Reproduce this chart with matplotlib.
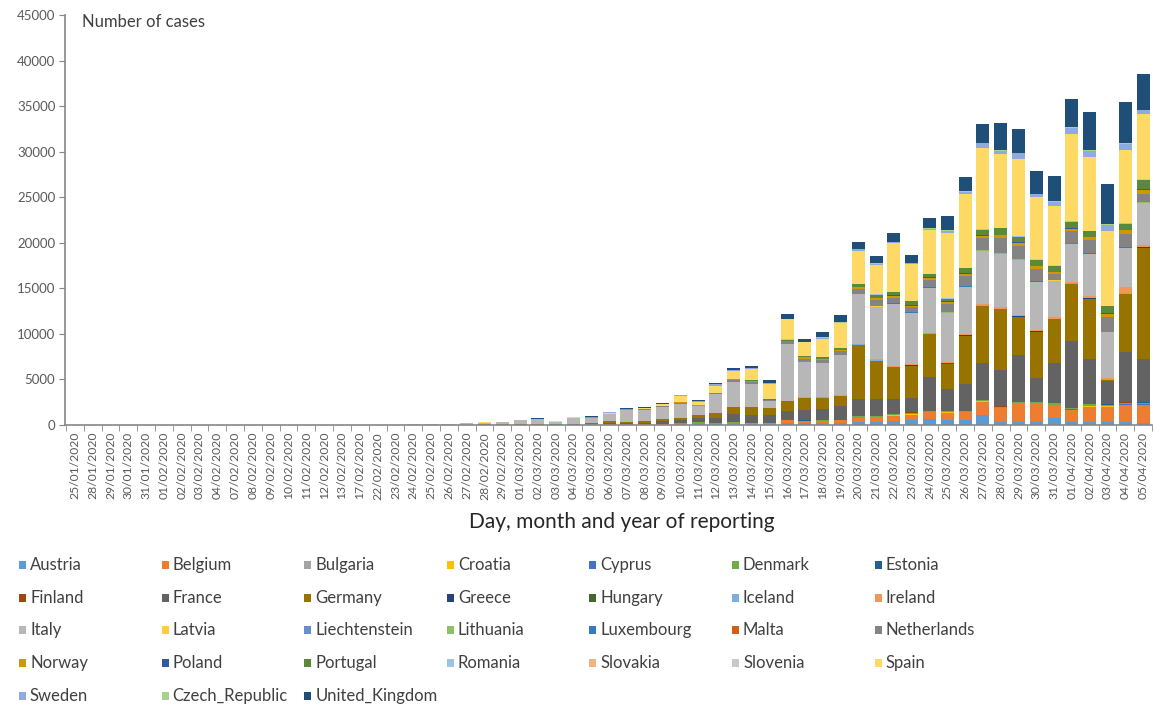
import numpy as np
import matplotlib
matplotlib.use("Agg")
import matplotlib.pyplot as plt
from matplotlib.patches import Rectangle

plt.rcParams['font.family'] = ['Lato', 'DejaVu Sans']

## Dates and countries ##
dates = ["25/01/2020", "28/01/2020", "29/01/2020", "30/01/2020", "31/01/2020",
         "01/02/2020", "02/02/2020", "03/02/2020", "04/02/2020", "07/02/2020",
         "08/02/2020", "09/02/2020", "10/02/2020", "11/02/2020", "12/02/2020",
         "13/02/2020", "17/02/2020", "22/02/2020", "23/02/2020", "24/02/2020",
         "25/02/2020", "26/02/2020", "27/02/2020", "28/02/2020", "29/02/2020",
         "01/03/2020", "02/03/2020", "03/03/2020", "04/03/2020", "05/03/2020",
         "06/03/2020", "07/03/2020", "08/03/2020", "09/03/2020", "10/03/2020",
         "11/03/2020", "12/03/2020", "13/03/2020", "14/03/2020", "15/03/2020",
         "16/03/2020", "17/03/2020", "18/03/2020", "19/03/2020", "20/03/2020",
         "21/03/2020", "22/03/2020", "23/03/2020", "24/03/2020", "25/03/2020",
         "26/03/2020", "27/03/2020", "28/03/2020", "29/03/2020", "30/03/2020",
         "31/03/2020", "01/04/2020", "02/04/2020", "03/04/2020", "04/04/2020",
         "05/04/2020"]

countries = ["Austria", "Belgium", "Bulgaria", "Croatia", "Cyprus", "Denmark", "Estonia",
             "Finland", "France", "Germany", "Greece", "Hungary", "Iceland", "Ireland",
             "Italy", "Latvia", "Liechtenstein", "Lithuania", "Luxembourg", "Malta", "Netherlands",
             "Norway", "Poland", "Portugal", "Romania", "Slovakia", "Slovenia", "Spain",
             "Sweden", "Czech_Republic", "United_Kingdom"]

colors = ["#5B9BD5", "#ED7D31", "#A5A5A5", "#FFC000", "#4472C4", "#70AD47", "#255E91",
          "#9E480E", "#636363", "#997300", "#264478", "#43682B", "#7CAFDD", "#F1975A",
          "#B7B7B7", "#FFCD33", "#698ED0", "#8CC168", "#327DC2", "#D26012", "#848484",
          "#CC9A00", "#335AA1", "#5A8A39", "#9DC3E6", "#F4B183", "#C9C9C9", "#FFD966",
          "#8FAADC", "#A9D18E", "#1F4E79"]

## Daily cases per country ##
austria = [0, 0, 0, 0, 0, 0, 0, 0, 0, 0, 0, 0, 0, 0, 0, 0, 0, 0, 0, 0,
           0, 0, 0, 0, 3, 4, 3, 6, 10, 20, 20, 20, 30, 40, 50, 60, 60, 80, 100, 100,
           220, 200, 200, 200, 300, 370, 470, 560, 700, 600, 600, 1098, 366, 366, 366, 732, 366, 366, 366, 366, 200]
belgium = [0, 0, 0, 0, 0, 0, 0, 0, 1, 0, 0, 0, 0, 0, 0, 0, 0, 0, 0, 0,
           0, 0, 0, 0, 0, 1, 0, 6, 10, 30, 60, 40, 40, 60, 70, 50, 40, 80, 70, 80,
           280, 220, 230, 300, 460, 460, 550, 580, 680, 750, 780, 1464, 1464, 2013, 2013, 1464, 1281, 1647, 1647, 1830, 2000]
bulgaria = [0, 0, 0, 0, 0, 0, 0, 0, 0, 0, 0, 0, 0, 0, 0, 0, 0, 0, 0, 0,
            0, 0, 0, 0, 0, 0, 0, 0, 0, 0, 0, 0, 0, 0, 0, 0, 0, 0, 0, 0,
            0, 5, 10, 5, 10, 10, 10, 10, 20, 20, 10, 10, 5, 10, 10, 5, 10, 15, 10, 10, 15]
croatia = [0, 0, 0, 0, 0, 0, 0, 0, 0, 0, 0, 0, 0, 0, 0, 0, 0, 0, 0, 0,
           0, 0, 0, 0, 0, 0, 0, 0, 0, 0, 0, 0, 0, 0, 0, 0, 0, 0, 0, 0,
           5, 5, 10, 10, 15, 15, 40, 25, 30, 20, 30, 30, 35, 35, 25, 30, 35, 40, 30, 35, 30]
cyprus = [0, 0, 0, 0, 0, 0, 0, 0, 0, 0, 0, 0, 0, 0, 0, 0, 0, 0, 0, 0,
          0, 0, 0, 0, 0, 0, 0, 0, 0, 0, 0, 0, 0, 0, 0, 0, 0, 0, 0, 0,
          5, 0, 10, 5, 10, 10, 10, 10, 10, 15, 10, 15, 10, 10, 10, 15, 10, 10, 10, 15, 10]
denmark = [0, 0, 0, 0, 0, 0, 0, 0, 0, 0, 0, 0, 0, 0, 0, 0, 0, 0, 0, 0,
           0, 0, 1, 0, 0, 0, 1, 1, 5, 5, 10, 4, 15, 10, 90, 170, 100, 160, 30, 40,
           50, 55, 45, 49, 155, 85, 78, 141, 84, 114, 84, 100, 120, 80, 100, 150, 140, 200, 180, 160, 200]
estonia = [0, 0, 0, 0, 0, 0, 0, 0, 0, 0, 0, 0, 0, 0, 0, 0, 0, 0, 0, 0,
           0, 0, 0, 0, 0, 0, 0, 0, 0, 0, 0, 0, 0, 0, 0, 0, 0, 0, 0, 0,
           10, 10, 15, 5, 15, 15, 10, 15, 10, 15, 20, 15, 20, 15, 10, 15, 20, 15, 15, 20, 15]
finland = [0, 0, 0, 0, 0, 0, 0, 0, 0, 0, 0, 0, 0, 0, 0, 0, 0, 0, 0, 0,
           0, 0, 0, 0, 0, 0, 0, 0, 0, 0, 0, 0, 0, 0, 0, 0, 0, 0, 0, 0,
           15, 20, 20, 20, 20, 25, 20, 35, 35, 45, 40, 45, 45, 35, 30, 40, 50, 50, 50, 50, 50]
france = [3, 0, 1, 0, 1, 0, 0, 0, 0, 0, 1, 0, 0, 0, 0, 0, 0, 0, 0, 0,
          0, 5, 20, 40, 40, 30, 30, 50, 60, 100, 140, 190, 120, 300, 290, 475, 549, 915, 915, 915,
          915, 1171, 1244, 1464, 1830, 1830, 1720, 1537, 3660, 2379, 2928, 4026, 4026, 5124, 2562, 4392, 7320, 4941, 2562, 5490, 4758]
germany = [0, 1, 3, 0, 1, 1, 2, 2, 0, 2, 0, 0, 0, 2, 0, 0, 0, 0, 0, 0,
           0, 10, 20, 20, 30, 50, 60, 50, 60, 60, 180, 130, 180, 250, 250, 366, 550, 732, 915, 732,
           1100, 1281, 1208, 1098, 5929, 4209, 3404, 3587, 4758, 2745, 5307, 6222, 6588, 4209, 5124, 4758, 6222, 6588, 50, 6405, 12188]
greece = [0, 0, 0, 0, 0, 0, 0, 0, 0, 0, 0, 0, 0, 0, 0, 0, 0, 0, 0, 0,
          0, 0, 0, 0, 0, 0, 0, 0, 0, 0, 0, 0, 0, 0, 0, 0, 0, 0, 0, 0,
          20, 10, 15, 10, 40, 35, 50, 50, 30, 35, 35, 40, 35, 40, 30, 25, 45, 30, 35, 30, 30]
hungary = [0, 0, 0, 0, 0, 0, 0, 0, 0, 0, 0, 0, 0, 0, 0, 0, 0, 0, 0, 0,
           0, 0, 0, 0, 0, 0, 0, 0, 0, 0, 0, 0, 0, 0, 0, 0, 0, 0, 0, 0,
           5, 10, 5, 10, 15, 10, 10, 10, 10, 15, 15, 15, 20, 20, 15, 15, 20, 20, 15, 20, 20]
iceland = [0, 0, 0, 0, 0, 0, 0, 0, 0, 0, 0, 0, 0, 0, 0, 0, 0, 0, 0, 0,
           0, 0, 0, 0, 0, 0, 0, 0, 0, 0, 0, 0, 0, 0, 0, 0, 0, 0, 0, 0,
           20, 15, 15, 10, 40, 35, 40, 30, 25, 30, 40, 40, 40, 35, 30, 25, 35, 40, 30, 30, 25]
ireland = [0, 0, 0, 0, 0, 0, 0, 0, 0, 0, 0, 0, 0, 0, 0, 0, 0, 0, 0, 0,
           0, 0, 0, 0, 0, 0, 0, 0, 0, 0, 0, 0, 0, 0, 0, 0, 0, 0, 0, 0,
           20, 35, 35, 95, 65, 100, 50, 100, 100, 115, 125, 125, 150, 100, 150, 150, 165, 200, 200, 732, 200]
italy = [0, 0, 0, 0, 2, 0, 0, 0, 0, 0, 0, 0, 0, 0, 0, 0, 0, 15, 40, 120,
         90, 60, 130, 200, 230, 450, 560, 200, 600, 580, 780, 1250, 1250, 1350, 1550, 915, 2100, 2745, 2489, 732,
         6230, 3926, 3743, 4365, 5460, 5789, 6814, 5606, 4874, 5423, 5140, 5872, 5872, 6055, 5213, 4042, 4115, 4591, 4957, 4225, 4664]
latvia = [0, 0, 0, 0, 0, 0, 0, 0, 0, 0, 0, 0, 0, 0, 0, 0, 0, 0, 0, 0,
          0, 0, 0, 0, 0, 0, 0, 0, 0, 0, 0, 0, 0, 0, 0, 0, 0, 0, 0, 0,
          5, 5, 5, 5, 5, 10, 10, 10, 10, 10, 10, 10, 15, 10, 10, 10, 5, 10, 10, 15, 10]
liechtenstein = [0, 0, 0, 0, 0, 0, 0, 0, 0, 0, 0, 0, 0, 0, 0, 0, 0, 0, 0, 0,
                 0, 0, 0, 0, 0, 0, 0, 0, 0, 0, 0, 0, 0, 0, 0, 0, 0, 0, 0, 0,
                 0, 2, 0, 2, 0, 5, 5, 2, 5, 0, 5, 2, 5, 0, 5, 0, 2, 5, 0, 2, 0]
lithuania = [0, 0, 0, 0, 0, 0, 0, 0, 0, 0, 0, 0, 0, 0, 0, 0, 0, 0, 0, 0,
             0, 0, 0, 0, 0, 0, 0, 0, 0, 0, 0, 0, 0, 0, 0, 0, 0, 0, 0, 0,
             5, 5, 5, 5, 10, 10, 10, 10, 15, 20, 20, 25, 20, 20, 15, 15, 25, 30, 20, 30, 20]
luxembourg = [0, 0, 0, 0, 0, 0, 0, 0, 0, 0, 0, 0, 0, 0, 0, 0, 0, 0, 0, 0,
              0, 0, 0, 0, 0, 0, 0, 0, 0, 0, 0, 0, 0, 0, 0, 0, 0, 0, 0, 0,
              10, 15, 20, 25, 30, 65, 40, 50, 40, 75, 50, 60, 55, 45, 35, 10, 50, 75, 50, 45, 25]
malta = [0, 0, 0, 0, 0, 0, 0, 0, 0, 0, 0, 0, 0, 0, 0, 0, 0, 0, 0, 0,
         0, 0, 0, 0, 0, 0, 0, 0, 0, 0, 0, 0, 0, 0, 0, 0, 0, 0, 0, 0,
         5, 5, 5, 5, 5, 5, 10, 5, 5, 10, 5, 5, 10, 5, 5, 10, 5, 10, 5, 5, 10]
netherlands = [0, 0, 0, 0, 0, 0, 0, 0, 0, 0, 0, 0, 0, 0, 0, 0, 0, 0, 0, 0,
               0, 0, 0, 1, 1, 5, 8, 14, 20, 20, 40, 50, 70, 50, 100, 100, 60, 200, 250, 150,
               260, 300, 300, 400, 530, 640, 640, 550, 810, 850, 1098, 1281, 1647, 1464, 1391, 622, 1318, 1464, 1647, 1464, 915]
norway = [0, 0, 0, 0, 0, 0, 0, 0, 0, 0, 0, 0, 0, 0, 0, 0, 0, 0, 0, 0,
          0, 0, 1, 0, 5, 10, 6, 10, 20, 20, 30, 20, 30, 20, 100, 50, 50, 100, 100, 40,
          80, 130, 130, 132, 198, 180, 184, 171, 254, 214, 231, 278, 281, 241, 258, 248, 294, 248, 331, 381, 430]
poland = [0, 0, 0, 0, 0, 0, 0, 0, 0, 0, 0, 0, 0, 0, 0, 0, 0, 0, 0, 0,
          0, 0, 0, 0, 0, 0, 0, 0, 0, 0, 0, 0, 0, 0, 0, 0, 0, 0, 0, 0,
          10, 15, 20, 20, 30, 45, 50, 30, 75, 75, 100, 50, 60, 100, 65, 40, 40, 40, 40, 40, 75]
portugal = [0, 0, 0, 0, 0, 0, 0, 0, 0, 0, 0, 0, 0, 0, 0, 0, 0, 0, 0, 0,
            0, 0, 0, 0, 0, 0, 0, 0, 0, 0, 0, 0, 0, 0, 0, 0, 0, 50, 80, 60,
            100, 120, 120, 200, 260, 360, 320, 460, 300, 300, 550, 600, 700, 650, 650, 650, 750, 650, 750, 700, 1000]
romania = [0, 0, 0, 0, 0, 0, 0, 0, 0, 0, 0, 0, 0, 0, 0, 0, 0, 0, 0, 0,
           0, 0, 0, 0, 0, 0, 0, 0, 0, 0, 0, 0, 0, 0, 0, 0, 0, 0, 0, 0,
           10, 15, 20, 15, 30, 25, 20, 35, 30, 40, 30, 25, 30, 50, 25, 20, 15, 20, 15, 20, 40]
slovakia = [0, 0, 0, 0, 0, 0, 0, 0, 0, 0, 0, 0, 0, 0, 0, 0, 0, 0, 0, 0,
            0, 0, 0, 0, 0, 0, 0, 0, 0, 0, 0, 0, 0, 0, 0, 0, 0, 0, 0, 0,
            5, 10, 10, 10, 10, 20, 5, 10, 15, 15, 5, 10, 10, 5, 10, 15, 10, 10, 5, 10, 10]
slovenia = [0, 0, 0, 0, 0, 0, 0, 0, 0, 0, 0, 0, 0, 0, 0, 0, 0, 0, 0, 0,
            0, 0, 0, 0, 0, 0, 0, 0, 0, 0, 0, 0, 0, 0, 0, 0, 0, 0, 0, 0,
            10, 10, 15, 10, 15, 20, 15, 20, 15, 10, 15, 15, 10, 20, 15, 10, 15, 10, 10, 15, 10]
spain = [0, 0, 0, 0, 0, 0, 0, 0, 0, 0, 0, 0, 0, 0, 0, 0, 0, 0, 0, 0,
         5, 10, 10, 15, 20, 30, 40, 50, 50, 60, 90, 60, 130, 200, 650, 366, 805, 915, 1171, 1647,
         2196, 1464, 2013, 2672, 3660, 3184, 5344, 4026, 4758, 7137, 8118, 8967, 8052, 8491, 6844, 6515, 9626, 8052, 8235, 8052, 7137]
sweden = [0, 0, 0, 0, 0, 0, 0, 0, 0, 0, 0, 0, 0, 0, 0, 0, 0, 0, 0, 0,
          0, 0, 0, 0, 0, 0, 0, 0, 10, 10, 40, 30, 50, 40, 100, 100, 150, 50, 100, 70,
          50, 60, 100, 100, 150, 150, 150, 100, 150, 250, 225, 474, 401, 584, 291, 474, 657, 657, 657, 657, 474]
czech = [0, 0, 0, 0, 0, 0, 0, 0, 0, 0, 0, 0, 0, 0, 0, 0, 0, 0, 0, 0,
         0, 0, 0, 0, 0, 0, 0, 0, 0, 0, 0, 0, 0, 0, 0, 0, 0, 0, 0, 0,
         20, 35, 40, 35, 45, 65, 50, 50, 75, 60, 90, 75, 100, 50, 60, 75, 100, 100, 75, 75, 60]
uk = [0, 0, 0, 0, 2, 0, 0, 0, 0, 0, 0, 1, 0, 0, 0, 0, 0, 0, 0, 0,
      0, 0, 0, 5, 3, 12, 20, 11, 15, 30, 30, 40, 50, 60, 60, 100, 200, 200, 250, 400,
      476, 290, 550, 805, 732, 732, 988, 805, 1098, 1574, 1464, 2013, 2928, 2635, 2489, 2745, 3038, 4209, 4392, 4575, 3953]

series = [austria, belgium, bulgaria, croatia, cyprus, denmark, estonia,
          finland, france, germany, greece, hungary, iceland, ireland,
          italy, latvia, liechtenstein, lithuania, luxembourg, malta, netherlands,
          norway, poland, portugal, romania, slovakia, slovenia, spain,
          sweden, czech, uk]

for name, vals in zip(countries, series):
    assert len(vals) == len(dates), name

## Stacked bar chart ##
W, H = 1157, 706
fig = plt.figure(figsize=(W / 100, H / 100), dpi=100)
ax = fig.add_axes([65 / W, 1 - 425 / H, (1152 - 65) / W, 410 / H])

x = np.arange(len(dates))
bottom = np.zeros(len(dates))
for name, vals, col in zip(countries, series, colors):
    ax.bar(x, vals, 0.73, bottom=bottom, color=col, linewidth=0, label=name)
    bottom += np.array(vals)

axis_grey = '#868686'
text_grey = '#595959'

ax.set_xlim(-0.56, len(dates) - 0.5)
ax.set_ylim(0, 45000)
ax.set_yticks(np.arange(0, 45001, 5000))
ax.set_xticks(x)
ax.set_xticklabels(dates, rotation=90, fontsize=8.7, color=text_grey)
ax.set_xticks(np.arange(-0.5, len(dates), 1), minor=True)
ax.tick_params(axis='x', which='major', length=0, pad=5)
ax.tick_params(axis='x', which='minor', length=4, color=axis_grey)
ax.tick_params(axis='y', length=4, color=axis_grey, labelsize=9.5, labelcolor=text_grey, pad=3)
for s in ['top', 'right']:
    ax.spines[s].set_visible(False)
for s in ['left', 'bottom']:
    ax.spines[s].set_color(axis_grey)
    ax.spines[s].set_linewidth(1.2)

ax.text(0.016, 0.983, "Number of cases", transform=ax.transAxes,
        fontsize=12, color='#404040', ha='left', va='center')

fig.text(622 / W, 1 - 522 / H, "Day, month and year of reporting",
         fontsize=15, color='#262626', ha='center', va='center')

## Legend (row by row, like the original) ##
for k, (name, col) in enumerate(zip(countries, colors)):
    r, c = divmod(k, 7)
    xm = 19 + 142.6 * c
    ym = 565 + 32.7 * r
    fig.add_artist(Rectangle((xm / W, 1 - (ym + 4) / H), 7 / W, 8 / H,
                             transform=fig.transFigure, color=col, linewidth=0))
    fig.text((xm + 11) / W, 1 - ym / H, name, fontsize=12, color='#404040',
             ha='left', va='center')

fig.savefig("out.png", dpi=100)
